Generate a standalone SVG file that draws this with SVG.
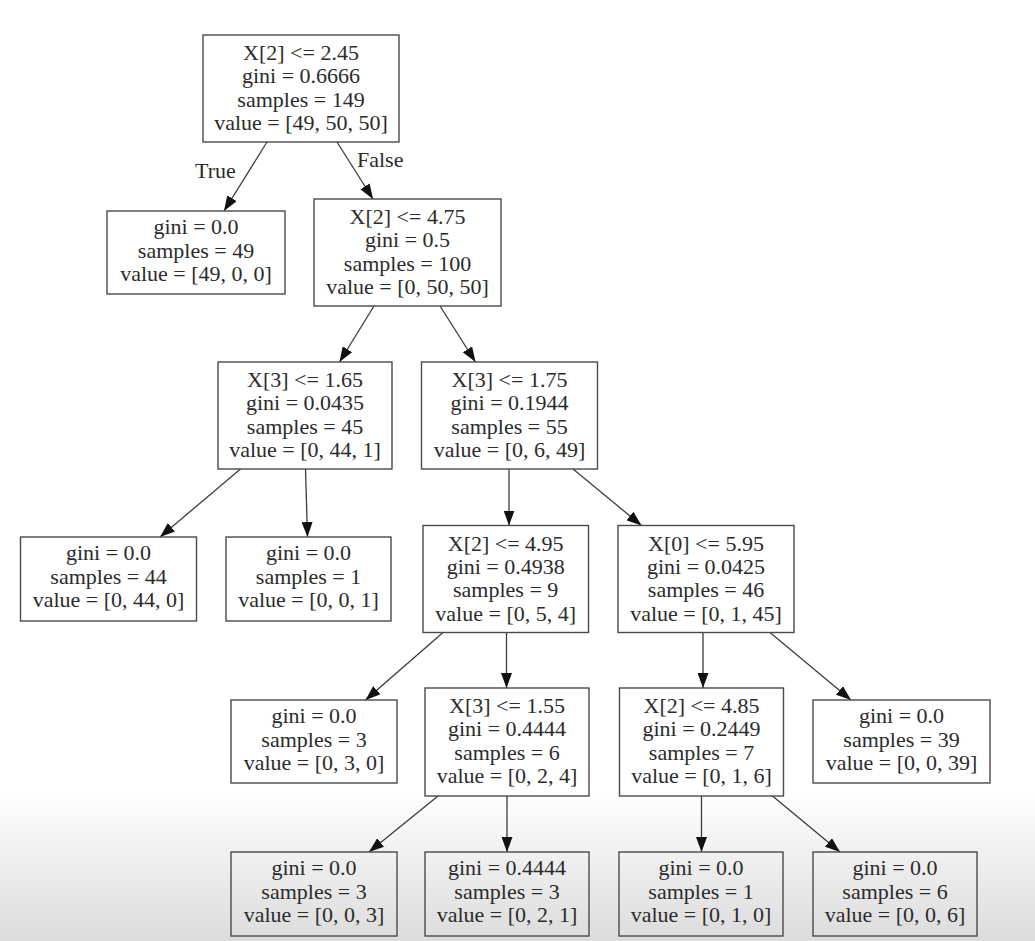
<svg xmlns="http://www.w3.org/2000/svg" width="1035" height="941" viewBox="0 0 1035 941">
<style>
.box{fill:none;stroke:#4a4a4a;stroke-width:1.4}
.t{font-family:"Liberation Serif","Times New Roman",serif;font-size:22px;fill:#2b2b2b;text-anchor:middle}
.lbl{font-family:"Liberation Serif","Times New Roman",serif;font-size:22px;fill:#2b2b2b}
.e{fill:none;stroke:#3c3c3c;stroke-width:1.3;marker-end:url(#ah)}
</style>
<defs>
<linearGradient id="bg" x1="0" y1="790" x2="0" y2="941" gradientUnits="userSpaceOnUse">
<stop offset="0" stop-color="#ffffff"/>
<stop offset="1" stop-color="#dcdcdc"/>
</linearGradient>
<marker id="ah" markerWidth="15" markerHeight="11" refX="15" refY="5.5" orient="auto" markerUnits="userSpaceOnUse">
<path d="M0,0 L15,5.5 L0,11 z" fill="#111"/>
</marker>
</defs>
<rect x="0" y="0" width="1035" height="941" fill="url(#bg)"/>

<g id="connectors">
<path class="e" d="M267,142 L224,211"/>
<path class="e" d="M337,142 L373,199"/>
<path class="e" d="M374,306 L339.5,362"/>
<path class="e" d="M440,306 L475.5,362"/>
<path class="e" d="M240.5,469 L160,537"/>
<path class="e" d="M305.5,469 L307.5,537"/>
<path class="e" d="M509,469 L509,525.5"/>
<path class="e" d="M573,469 L641.5,525.5"/>
<path class="e" d="M443,632.5 L365.5,700"/>
<path class="e" d="M506.5,632.5 L506.5,688"/>
<path class="e" d="M703,632.5 L703,688"/>
<path class="e" d="M770,632.5 L851,700"/>
<path class="e" d="M438,796 L369,852"/>
<path class="e" d="M507,796 L507,852"/>
<path class="e" d="M701.5,796 L701.5,852"/>
<path class="e" d="M772.5,796 L840,852"/>
<text class="lbl" x="195" y="178">True</text>
<text class="lbl" x="357" y="167">False</text>
</g>

<g id="n0">
<rect class="box" x="203" y="35" width="196" height="107"/>
<text class="t" x="301" y="60">X[2] &lt;= 2.45</text>
<text class="t" x="301" y="83.3">gini = 0.6666</text>
<text class="t" x="301" y="106.6">samples = 149</text>
<text class="t" x="301" y="130">value = [49, 50, 50]</text>
</g>
<g id="n1">
<rect class="box" x="107" y="211" width="178" height="83"/>
<text class="t" x="196" y="234">gini = 0.0</text>
<text class="t" x="196" y="257.5">samples = 49</text>
<text class="t" x="196" y="281">value = [49, 0, 0]</text>
</g>
<g id="n2">
<rect class="box" x="314" y="199" width="187" height="107"/>
<text class="t" x="407.5" y="224">X[2] &lt;= 4.75</text>
<text class="t" x="407.5" y="247.3">gini = 0.5</text>
<text class="t" x="407.5" y="270.6">samples = 100</text>
<text class="t" x="407.5" y="294">value = [0, 50, 50]</text>
</g>
<g id="n3">
<rect class="box" x="218" y="362" width="174" height="107"/>
<text class="t" x="305" y="387">X[3] &lt;= 1.65</text>
<text class="t" x="305" y="410.3">gini = 0.0435</text>
<text class="t" x="305" y="433.6">samples = 45</text>
<text class="t" x="305" y="457">value = [0, 44, 1]</text>
</g>
<g id="n4">
<rect class="box" x="421.5" y="362" width="176" height="107"/>
<text class="t" x="509.5" y="387">X[3] &lt;= 1.75</text>
<text class="t" x="509.5" y="410.3">gini = 0.1944</text>
<text class="t" x="509.5" y="433.6">samples = 55</text>
<text class="t" x="509.5" y="457">value = [0, 6, 49]</text>
</g>
<g id="n5">
<rect class="box" x="20.5" y="537" width="176" height="84"/>
<text class="t" x="108.5" y="560">gini = 0.0</text>
<text class="t" x="108.5" y="583.5">samples = 44</text>
<text class="t" x="108.5" y="607">value = [0, 44, 0]</text>
</g>
<g id="n6">
<rect class="box" x="226" y="537" width="165" height="84"/>
<text class="t" x="308.5" y="560">gini = 0.0</text>
<text class="t" x="308.5" y="583.5">samples = 1</text>
<text class="t" x="308.5" y="607">value = [0, 0, 1]</text>
</g>
<g id="n7">
<rect class="box" x="423" y="525.5" width="165.5" height="107"/>
<text class="t" x="505.7" y="550.5">X[2] &lt;= 4.95</text>
<text class="t" x="505.7" y="573.8">gini = 0.4938</text>
<text class="t" x="505.7" y="597.1">samples = 9</text>
<text class="t" x="505.7" y="620.5">value = [0, 5, 4]</text>
</g>
<g id="n8">
<rect class="box" x="618" y="525.5" width="176" height="107"/>
<text class="t" x="706" y="550.5">X[0] &lt;= 5.95</text>
<text class="t" x="706" y="573.8">gini = 0.0425</text>
<text class="t" x="706" y="597.1">samples = 46</text>
<text class="t" x="706" y="620.5">value = [0, 1, 45]</text>
</g>
<g id="n9">
<rect class="box" x="231" y="700" width="166" height="83"/>
<text class="t" x="314" y="723">gini = 0.0</text>
<text class="t" x="314" y="746.5">samples = 3</text>
<text class="t" x="314" y="770">value = [0, 3, 0]</text>
</g>
<g id="n10">
<rect class="box" x="425" y="688" width="164" height="108"/>
<text class="t" x="507" y="713">X[3] &lt;= 1.55</text>
<text class="t" x="507" y="736.3">gini = 0.4444</text>
<text class="t" x="507" y="759.6">samples = 6</text>
<text class="t" x="507" y="783">value = [0, 2, 4]</text>
</g>
<g id="n11">
<rect class="box" x="619.5" y="688" width="164" height="108"/>
<text class="t" x="701.5" y="713">X[2] &lt;= 4.85</text>
<text class="t" x="701.5" y="736.3">gini = 0.2449</text>
<text class="t" x="701.5" y="759.6">samples = 7</text>
<text class="t" x="701.5" y="783">value = [0, 1, 6]</text>
</g>
<g id="n12">
<rect class="box" x="813" y="700" width="177" height="83"/>
<text class="t" x="901.5" y="723">gini = 0.0</text>
<text class="t" x="901.5" y="746.5">samples = 39</text>
<text class="t" x="901.5" y="770">value = [0, 0, 39]</text>
</g>
<g id="n13">
<rect class="box" x="231" y="852" width="166" height="84"/>
<text class="t" x="314" y="875">gini = 0.0</text>
<text class="t" x="314" y="898.5">samples = 3</text>
<text class="t" x="314" y="922">value = [0, 0, 3]</text>
</g>
<g id="n14">
<rect class="box" x="425" y="852" width="164" height="84"/>
<text class="t" x="507" y="875">gini = 0.4444</text>
<text class="t" x="507" y="898.5">samples = 3</text>
<text class="t" x="507" y="922">value = [0, 2, 1]</text>
</g>
<g id="n15">
<rect class="box" x="619" y="852" width="164" height="84"/>
<text class="t" x="701" y="875">gini = 0.0</text>
<text class="t" x="701" y="898.5">samples = 1</text>
<text class="t" x="701" y="922">value = [0, 1, 0]</text>
</g>
<g id="n16">
<rect class="box" x="813" y="852" width="164" height="84"/>
<text class="t" x="895" y="875">gini = 0.0</text>
<text class="t" x="895" y="898.5">samples = 6</text>
<text class="t" x="895" y="922">value = [0, 0, 6]</text>
</g>
</svg>
